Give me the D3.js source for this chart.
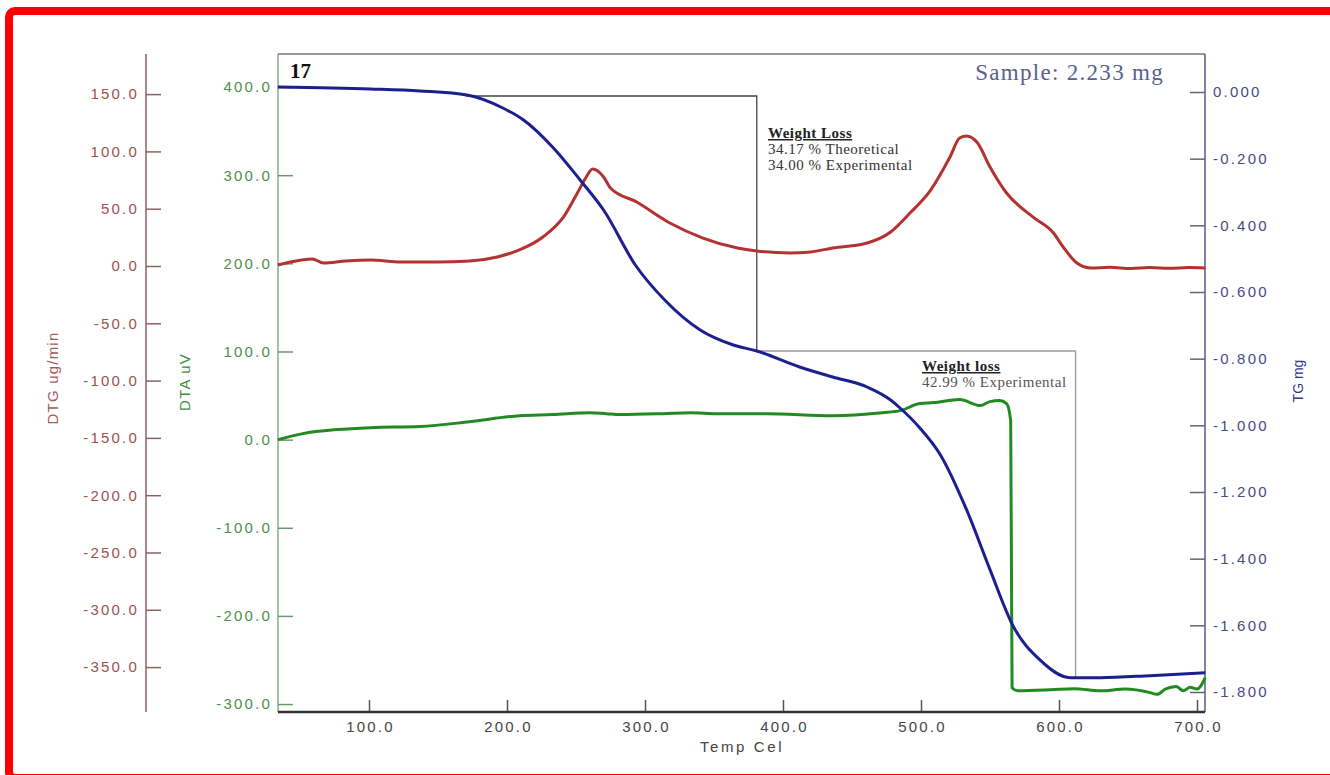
<!DOCTYPE html>
<html>
<head>
<meta charset="utf-8">
<script src="https://cdn.jsdelivr.net/npm/d3@7"></script>
<style>
body{margin:0;background:#fff;}
svg text{font-family:"Liberation Sans",Arial,sans-serif;}
.ser{font-family:"Liberation Serif","Times New Roman",serif !important;}
</style>
</head>
<body>
<div class="chart_div"></div>
<script>
// temperature (Cel)
var tempTicks = [100,200,300,400,500,600,700];
var dtgTicks = [150,100,50,0,-50,-100,-150,-200,-250,-300,-350];
var dtaTicks = [400,300,200,100,0,-100,-200,-300];
var tgTicks = [0,-0.2,-0.4,-0.6,-0.8,-1.0,-1.2,-1.4,-1.6,-1.8];

// TG mg
var tgT = [34,101,137,171,197,212,233,253,270,293,315,340,364,381,412,436,461,478,484,499,514,533,550,567,586,608,630,666,706];
var tgV = [0.015,0.009,0.003,-0.009,-0.048,-0.084,-0.165,-0.264,-0.354,-0.519,-0.627,-0.714,-0.759,-0.777,-0.825,-0.855,-0.885,-0.924,-0.945,-1.007,-1.088,-1.253,-1.433,-1.604,-1.703,-1.757,-1.757,-1.751,-1.742];

// DTG ug/min
var dtgT = [34,43,59,67,83,101,123,149,173,193,209,226,241,251,257,262,270,275,294,318,342,367,381,405,420,436,461,478,492,507,521,528,533,541,550,562,581,596,603,613,623,637,652,666,680,694,706];
var dtgV = [0.9,3.5,6.1,2.6,4.4,5.2,3.5,3.5,4.4,7.9,14,25.3,42.8,63.7,76.8,84.6,77.7,68.1,55.8,37.5,24.4,15.7,13.1,11.3,12.2,15.7,20.1,29.7,46.2,66.3,95.1,111.7,113.4,107.3,86.4,63.7,42.8,28.8,16.6,2.6,-1.7,-1.2,-2.2,-1.4,-2.0,-1.3,-1.7];

// DTA uV
var dtaT = [34,52,77,101,137,173,209,233,260,272,282,313,333,352,388,436,472,485,499,509,528,543,550,557,562,565,566,570,594,611,630,648,666,671,677,685,690,695,700,706];
var dtaV = [0,6.8,11.4,13.6,14.8,20.4,27.2,28.4,30.6,29.5,28.4,29.5,30.6,29.5,29.5,27.2,30.6,32.9,40.9,42,45.4,38.6,43.1,44.3,40.9,21.6,-281.5,-285,-283.8,-282.5,-285,-283,-287,-289,-283,-280,-285,-281,-283,-270];

// weight loss steps: [start temp, end temp] and [TG start, TG end]
var stepT = [[170,381],[381,612]];
var stepV = [[-0.012,-0.777],[-0.777,-1.757]];
var stepText = [["Weight Loss","34.17 % Theoretical","34.00 % Experimental"],["Weight loss","42.99 % Experimental"]];

var W = 1330, H = 775;
var pLeft = 278, pRight = 1205, pTop = 54, pBottom = 712;

var svg = d3.select(".chart_div").append("svg")
			.attr("width",W)
			.attr("height",H);

// red frame
svg.append("rect")
	.attr("x",9).attr("y",11)
	.attr("width",1340).attr("height",767)
	.attr("rx",6)
	.attr("fill","none")
	.attr("stroke","#ff0000")
	.attr("stroke-width",8);

var x = d3.scaleLinear().domain([34.06,705.8]).range([pLeft,pRight]);
var yDtg = d3.scaleLinear().domain([185,-389.2]).range([pTop,pBottom]);
var yDta = d3.scaleLinear().domain([437.5,-309]).range([pTop,pBottom]);
var yTg = d3.scaleLinear().domain([0.114,-1.86]).range([pTop,pBottom]);

function fmt(p){
	return function(d){ return d3.format(p)(d).replace("\u2212","-"); };
}

function styleAxis(g,col,txt){
	g.select(".domain").remove();
	g.selectAll("line").attr("stroke",col).attr("stroke-width",1.5);
	g.selectAll("text")
		.attr("fill",txt)
		.style("font-size","15px")
		.style("letter-spacing","2.2px");
}

// DTG axis (far left)
var gDtg = svg.append("g").attr("transform","translate(146,0)")
	.call(d3.axisRight(yDtg).tickValues(dtgTicks).tickSize(15).tickFormat(fmt(".1f")));
styleAxis(gDtg,"#8f6060","#9e5252");
gDtg.selectAll("text").attr("x",-7).style("text-anchor","end");
svg.append("line").attr("x1",146).attr("x2",146).attr("y1",pTop).attr("y2",pBottom)
	.attr("stroke","#8f6060").attr("stroke-width",1.5);

// DTA axis
var gDta = svg.append("g").attr("transform","translate("+pLeft+",0)")
	.call(d3.axisRight(yDta).tickValues(dtaTicks).tickSize(15).tickFormat(fmt(".1f")));
styleAxis(gDta,"#6a9a6a","#4a924a");
gDta.selectAll("text").attr("x",-6).style("text-anchor","end");

// TG axis
var gTg = svg.append("g").attr("transform","translate("+pRight+",0)")
	.call(d3.axisLeft(yTg).tickValues(tgTicks).tickSize(15).tickFormat(fmt(".3f")));
styleAxis(gTg,"#666","#474c84");
gTg.selectAll("text").attr("x",8).style("text-anchor","start");

// temperature axis
var gX = svg.append("g").attr("transform","translate(0,"+pBottom+")")
	.call(d3.axisTop(x).tickValues(tempTicks).tickSize(12).tickFormat(fmt(".1f")));
styleAxis(gX,"#555","#444");
gX.selectAll("text").attr("y",20).attr("dy","0").attr("dx","1px");

// frame lines
svg.append("line").attr("x1",pLeft).attr("x2",pRight).attr("y1",pTop).attr("y2",pTop)
	.attr("stroke","#333").attr("stroke-width",1.2);
svg.append("line").attr("x1",pLeft).attr("x2",pLeft).attr("y1",pTop).attr("y2",pBottom)
	.attr("stroke","#6a9a6a").attr("stroke-width",1.2);
svg.append("line").attr("x1",pRight).attr("x2",pRight).attr("y1",pTop).attr("y2",pBottom)
	.attr("stroke","#555a8a").attr("stroke-width",1.5);
svg.append("line").attr("x1",pLeft).attr("x2",pRight).attr("y1",pBottom).attr("y2",pBottom)
	.attr("stroke","#333").attr("stroke-width",2.5);

// axis titles
svg.append("text").attr("transform","translate(58,378) rotate(-90)")
	.attr("text-anchor","middle").attr("fill","#a55a5a").style("font-size","15px")
	.style("letter-spacing","1.2px")
	.text("DTG ug/min");
svg.append("text").attr("transform","translate(190,382) rotate(-90)")
	.attr("text-anchor","middle").attr("fill","#3e8f3e").style("font-size","15px")
	.style("letter-spacing","1.2px")
	.text("DTA uV");
svg.append("text").attr("transform","translate(1303,381) rotate(-90)")
	.attr("text-anchor","middle").attr("fill","#2f3a8a").style("font-size","14px")
	.text("TG mg");
svg.append("text").attr("x",742).attr("y",752)
	.attr("text-anchor","middle").attr("fill","#444").style("font-size","15px")
	.style("letter-spacing","2.6px")
	.text("Temp Cel");

// weight-loss step lines
var stepCol = ["#444","#999"];
stepT.forEach(function(s,i){
	var v = stepV[i];
	svg.append("path")
		.attr("d","M"+x(s[0])+","+yTg(v[0])+"H"+x(s[1])+"V"+yTg(v[1]))
		.attr("fill","none")
		.attr("stroke",stepCol[i])
		.attr("stroke-width",1.3);
});

// curves
function drawCurve(ts,vs,y,col){
	var pts = ts.map(function(t,i){ return [t,vs[i]]; });
	svg.append("path")
		.datum(pts)
		.attr("d",d3.line()
			.curve(d3.curveMonotoneX)
			.x(function(d){ return x(d[0]); })
			.y(function(d){ return y(d[1]); }))
		.attr("fill","none")
		.attr("stroke",col)
		.attr("stroke-width",3)
		.attr("stroke-linejoin","round");
}
drawCurve(dtaT,dtaV,yDta,"#218a21");
drawCurve(dtgT,dtgV,yDtg,"#b33232");
drawCurve(tgT,tgV,yTg,"#1c1f8f");

// labels
svg.append("text").attr("class","ser").attr("x",290).attr("y",78)
	.attr("font-weight","bold").style("font-size","21px").attr("fill","#111")
	.text("17");
svg.append("text").attr("class","ser").attr("x",1164).attr("y",80)
	.attr("text-anchor","end").style("font-size","23px").attr("fill","#5a5f8f")
	.style("letter-spacing","1.3px")
	.text("Sample: 2.233 mg");

var textPos = [[768,138],[922,371]];
var textCol = ["#333","#555"];
stepText.forEach(function(lines,i){
	lines.forEach(function(s,j){
		svg.append("text").attr("class","ser")
			.attr("x",textPos[i][0]).attr("y",textPos[i][1]+j*16)
			.attr("fill",j==0 ? "#222" : textCol[i])
			.attr("font-weight",j==0 ? "bold" : "normal")
			.attr("text-decoration",j==0 ? "underline" : "none")
			.style("font-size","15px")
			.style("letter-spacing","0.5px")
			.text(s);
	});
});
</script>
</body>
</html>
